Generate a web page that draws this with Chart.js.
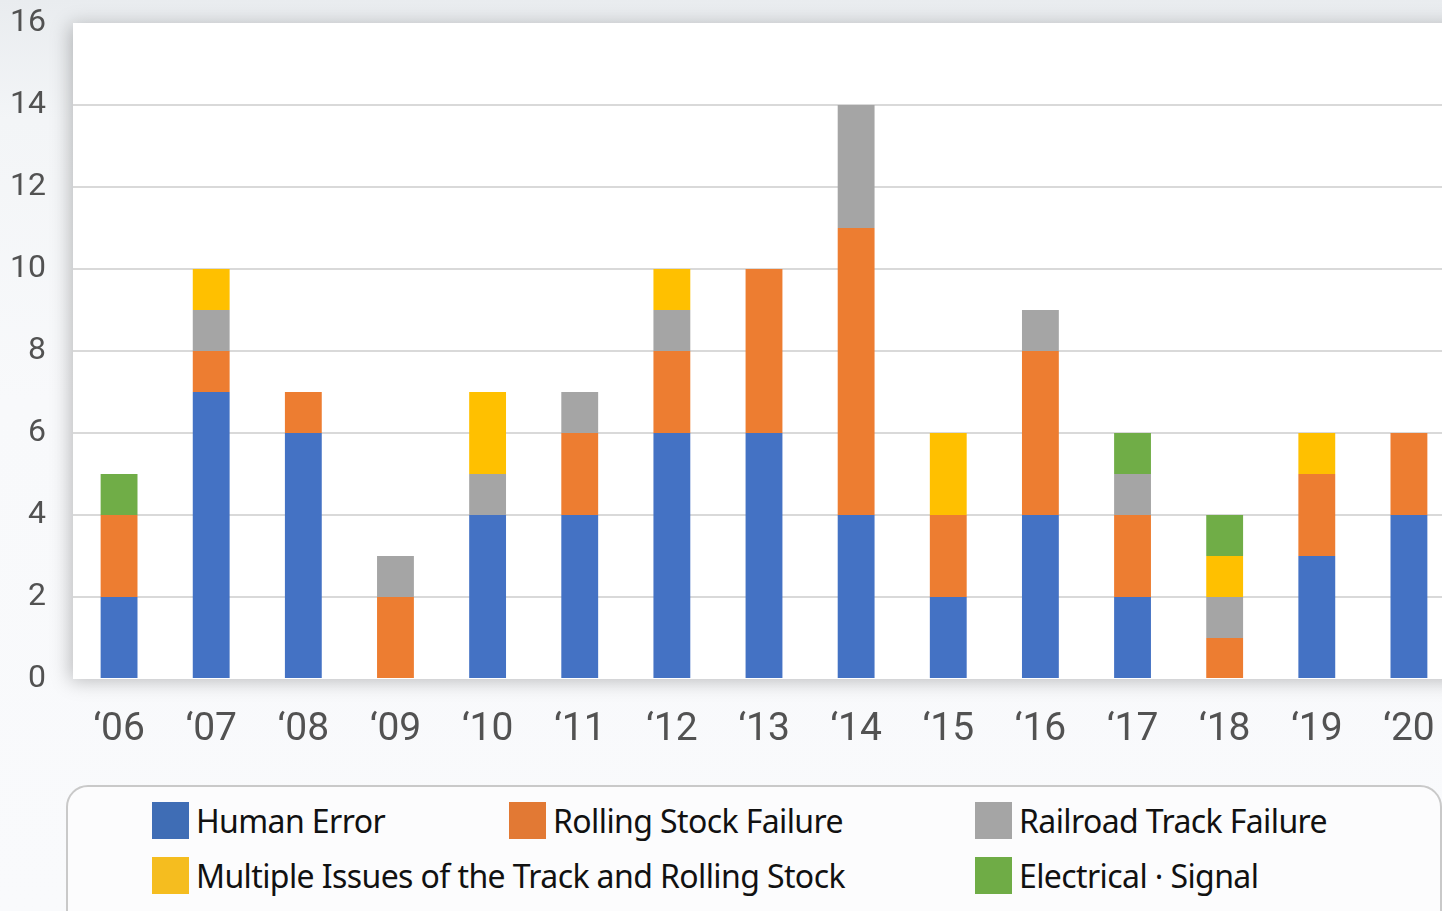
<!DOCTYPE html>
<html>
<head>
<meta charset="utf-8">
<script src="https://cdn.jsdelivr.net/npm/chart.js@4.4.1/dist/chart.umd.min.js"></script>
<style>
  html, body {
    margin: 0;
    padding: 0;
    width: 1442px;
    height: 911px;
    overflow: hidden;
    background: linear-gradient(180deg, #e9ecef 0px, #f3f5f7 120px, #f8f9fb 400px, #f9fafc 911px);
    font-family: "Noto Sans", sans-serif;
  }
  #wrap {
    position: absolute;
    left: 0;
    top: 0;
    width: 1455px;
    height: 780px;
  }
  #legend {
    position: absolute;
    left: 66px;
    top: 785px;
    width: 1376px;
    height: 160px;
    box-sizing: border-box;
    border: 2px solid #c9c9c9;
    border-radius: 22px;
    background: #fcfcfd;
  }
  .item {
    position: absolute;
    height: 37px;
    display: flex;
    align-items: center;
    font-size: 32px;
    color: #111;
    letter-spacing: -0.6px;
    white-space: nowrap;
  }
  .item i {
    display: inline-block;
    width: 37px;
    height: 37px;
    margin-right: 7px;
  }
</style>
</head>
<body>
<div id="wrap"><canvas id="myChart" width="1455" height="780"></canvas></div>
<div id="legend"></div>
<script>
var years = ["‘06", "‘07", "‘08", "‘09", "‘10", "‘11", "‘12", "‘13", "‘14", "‘15", "‘16", "‘17", "‘18", "‘19", "‘20"];

var humanError      = [2, 7, 6, 0, 4, 4, 6, 6, 4, 2, 4, 2, 0, 3, 4];
var rollingStock    = [2, 1, 1, 2, 0, 2, 2, 4, 7, 2, 4, 2, 1, 2, 2];
var trackFailure    = [0, 1, 0, 1, 1, 1, 1, 0, 3, 0, 1, 1, 1, 0, 0];
var multipleIssues  = [0, 1, 0, 0, 2, 0, 1, 0, 0, 2, 0, 0, 1, 1, 0];
var electricSignal  = [1, 0, 0, 0, 0, 0, 0, 0, 0, 0, 0, 1, 1, 0, 0];

var yTicks = [0, 2, 4, 6, 8, 10, 12, 14, 16];

var series = [
    { label: "Human Error", data: humanError, color: "#4472c4", legend: "#3f6db5", x: 84, y: 15 },
    { label: "Rolling Stock Failure", data: rollingStock, color: "#ed7d31", legend: "#e27934", x: 441, y: 15 },
    { label: "Railroad Track Failure", data: trackFailure, color: "#a5a5a5", legend: "#a5a5a5", x: 907, y: 15 },
    { label: "Multiple Issues of the Track and Rolling Stock", data: multipleIssues, color: "#ffc000", legend: "#f5bd1f", x: 84, y: 70 },
    { label: "Electrical · Signal", data: electricSignal, color: "#70ad47", legend: "#6fac46", x: 907, y: 70 },
];

// html legend, laid out like the original grid
var legend = document.getElementById("legend");
series.forEach((s) => {
    var div = document.createElement("div");
    div.className = "item";
    div.style.left = s.x + "px";
    div.style.top = s.y + "px";
    div.innerHTML = '<i style="background:' + s.legend + '"></i><span></span>';
    div.querySelector("span").textContent = s.label;
    legend.appendChild(div);
});

// white plot panel with soft shadow
var plotPanel = {
    id: "plotPanel",
    beforeDraw(chart) {
        var a = chart.chartArea;
        var ctx = chart.ctx;
        ctx.save();
        ctx.shadowColor = "rgba(0,0,0,0.25)";
        ctx.shadowBlur = 18;
        ctx.shadowOffsetX = -3;
        ctx.shadowOffsetY = 2;
        ctx.fillStyle = "#ffffff";
        ctx.fillRect(a.left, a.top, a.right - a.left + 30, a.bottom - a.top);
        ctx.restore();
    },
};

var datasets = series.map((s) => ({
    label: s.label,
    data: s.data,
    backgroundColor: s.color,
    borderWidth: 0,
    barPercentage: 0.4,
    categoryPercentage: 1,
}));

var chart = new Chart(document.getElementById("myChart"), {
    type: "bar",
    data: { labels: years, datasets: datasets },
    plugins: [plotPanel],
    options: {
        responsive: false,
        devicePixelRatio: 1,
        animation: false,
        layout: { padding: { top: 23, right: 0, bottom: 0, left: 0 } },
        plugins: {
            legend: { display: false },
            tooltip: { enabled: false },
        },
        scales: {
            x: {
                stacked: true,
                grid: { display: false },
                border: { display: false },
                ticks: {
                    color: "#525252",
                    padding: 20,
                    font: { family: "Roboto", size: 39 },
                },
                afterFit(scale) {
                    scale.height = 101;
                    scale.paddingLeft = 0;
                    scale.paddingRight = 0;
                },
            },
            y: {
                stacked: true,
                min: 0,
                max: 16,
                afterBuildTicks(scale) {
                    scale.ticks = yTicks.map((v) => ({ value: v }));
                },
                grid: {
                    drawTicks: false,
                    lineWidth: 2,
                    color: (c) => (c.tick && (c.tick.value === 0 || c.tick.value === 16) ? "rgba(0,0,0,0)" : "#d9d9d9"),
                },
                border: { display: false },
                ticks: {
                    color: "#525252",
                    padding: 27,
                    font: { family: "Roboto", size: 32 },
                },
                afterFit(scale) {
                    scale.width = 73;
                    scale.paddingTop = 0;
                    scale.paddingBottom = 0;
                },
            },
        },
    },
});
</script>
</body>
</html>
